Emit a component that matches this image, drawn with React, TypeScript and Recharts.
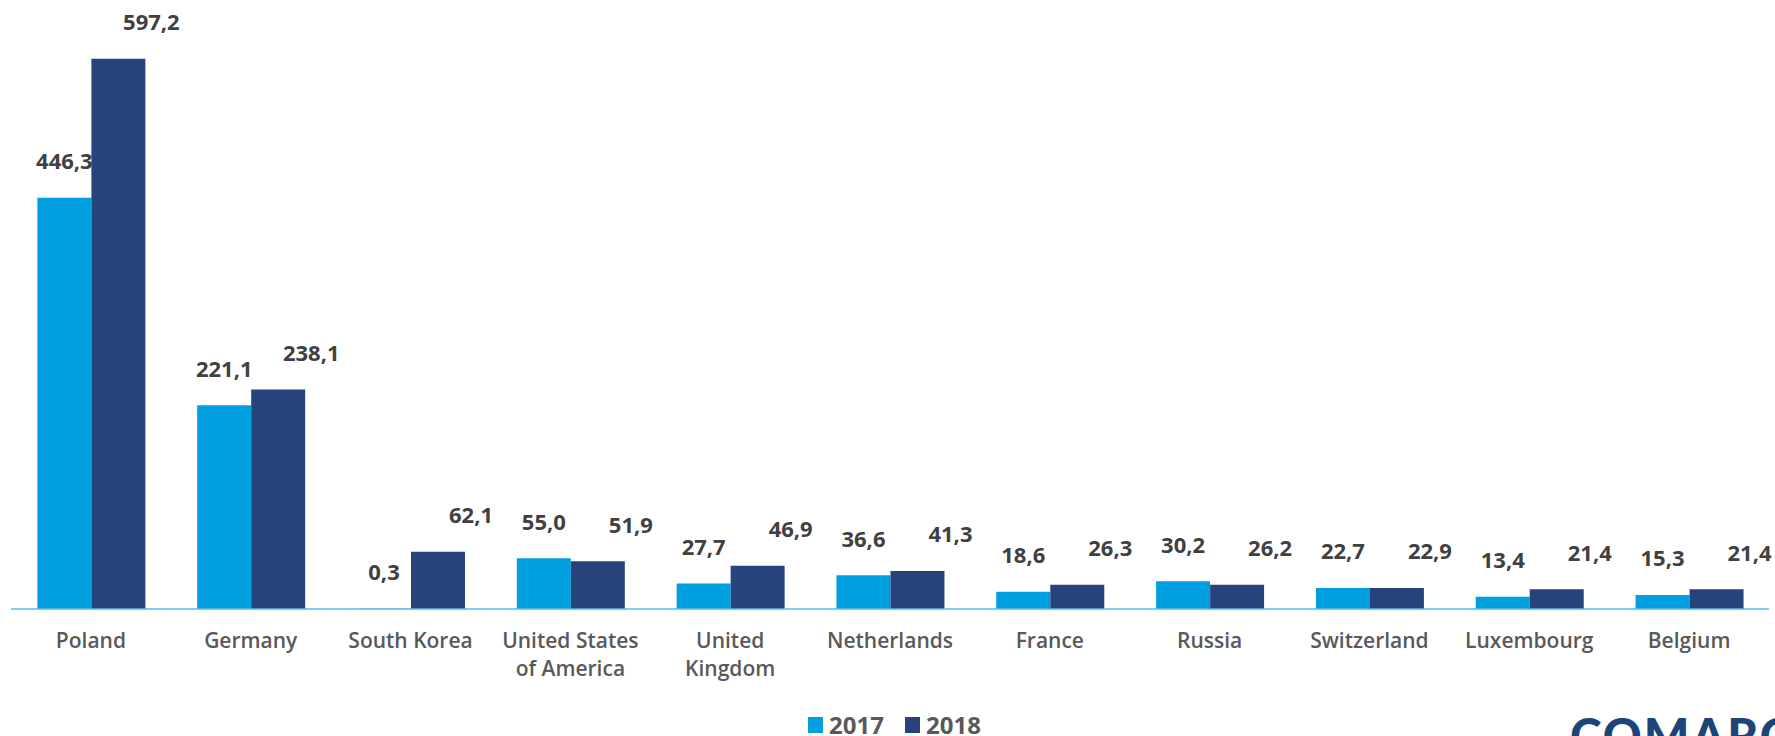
import React from 'react';
import { BarChart, Bar, XAxis, YAxis, Legend, LabelList } from 'recharts';

const categories = [
  'Poland',
  'Germany',
  'South Korea',
  'United States\nof America',
  'United\nKingdom',
  'Netherlands',
  'France',
  'Russia',
  'Switzerland',
  'Luxembourg',
  'Belgium',
];
const values2017 = [446.3, 221.1, 0.3, 55.0, 27.7, 36.6, 18.6, 30.2, 22.7, 13.4, 15.3];
const values2018 = [597.2, 238.1, 62.1, 51.9, 46.9, 41.3, 26.3, 26.2, 22.9, 21.4, 21.4];
const seriesNames = ['2017', '2018'];

const data = categories.map((name, i) => ({ name, y2017: values2017[i], y2018: values2018[i] }));

const COLOR_2017 = '#009FE0';
const COLOR_2018 = '#26437C';
const FONT = '"Open Sans", "Segoe UI", sans-serif';

const fmt = (v: number) => Number(v).toFixed(1).replace('.', ',');

const makeLabel = (dx: number) => (props: any) => {
  const { x, y, width, value } = props;
  return (
    <text
      x={Number(x) + Number(width) / 2 + dx}
      y={Number(y) - 28.6}
      textAnchor="middle"
      fontFamily={FONT}
      fontWeight={700}
      fontSize={22}
      fill="#404040"
    >
      {fmt(value)}
    </text>
  );
};

const CategoryTick = (props: any) => {
  const { x, y, payload } = props;
  const lines = String(payload.value).split('\n');
  return (
    <g>
      {lines.map((ln, i) => (
        <text
          key={i}
          x={x}
          y={Number(y) + 39 + i * 28}
          textAnchor="middle"
          fontFamily={FONT}
          fontWeight={600}
          fontSize={21}
          fill="#595959"
        >
          {ln}
        </text>
      ))}
    </g>
  );
};

const LegendContent = () => {
  const colors = [COLOR_2017, COLOR_2018];
  return (
    <div
      style={{
        height: 47,
        display: 'flex',
        justifyContent: 'center',
        alignItems: 'flex-end',
        paddingBottom: 1,
        paddingLeft: 9,
        boxSizing: 'border-box',
      }}
    >
      {seriesNames.map((s, i) => (
        <div key={s} style={{ display: 'flex', alignItems: 'flex-end', marginLeft: i === 0 ? 0 : 21 }}>
          <div style={{ width: 15, height: 16, background: colors[i], marginBottom: 2, marginRight: 6 }} />
          <span
            style={{
              fontFamily: FONT,
              fontWeight: 700,
              fontSize: 24,
              lineHeight: '20px',
              color: '#595959',
            }}
          >
            {s}
          </span>
        </div>
      ))}
    </div>
  );
};

export default function App() {
  return (
    <div
      style={{
        position: 'absolute',
        left: 0,
        top: 0,
        width: 1775,
        height: 736,
        overflow: 'hidden',
        background: '#ffffff',
      }}
    >
      <BarChart
        width={1775}
        height={736}
        data={data}
        margin={{ top: 10, right: 6, bottom: 0, left: 11 }}
        barCategoryGap="16.5%"
        barGap={0}
      >
        <XAxis
          dataKey="name"
          interval={0}
          height={80}
          tickLine={false}
          tickSize={0}
          tickMargin={0}
          axisLine={{ stroke: '#5BB8E8', strokeWidth: 1.5 }}
          tick={<CategoryTick />}
        />
        <YAxis hide domain={[0, 650]} />
        <Legend
          verticalAlign="bottom"
          content={<LegendContent />}
          wrapperStyle={{ margin: 0, padding: 0 }}
        />
        <Bar dataKey="y2017" name={seriesNames[0]} fill={COLOR_2017} isAnimationActive={false}>
          <LabelList dataKey="y2017" content={makeLabel(0)} />
        </Bar>
        <Bar dataKey="y2018" name={seriesNames[1]} fill={COLOR_2018} isAnimationActive={false}>
          <LabelList dataKey="y2018" content={makeLabel(33)} />
        </Bar>
      </BarChart>
      <svg
        width={1775}
        height={736}
        style={{ position: 'absolute', left: 0, top: 0, pointerEvents: 'none' }}
      >
        <text
          x={1570}
          y={753}
          fontFamily="Lato, sans-serif"
          fontWeight={900}
          fontSize={48}
          letterSpacing={2}
          fill="#1D4478"
        >
          COMARCH
        </text>
      </svg>
    </div>
  );
}
